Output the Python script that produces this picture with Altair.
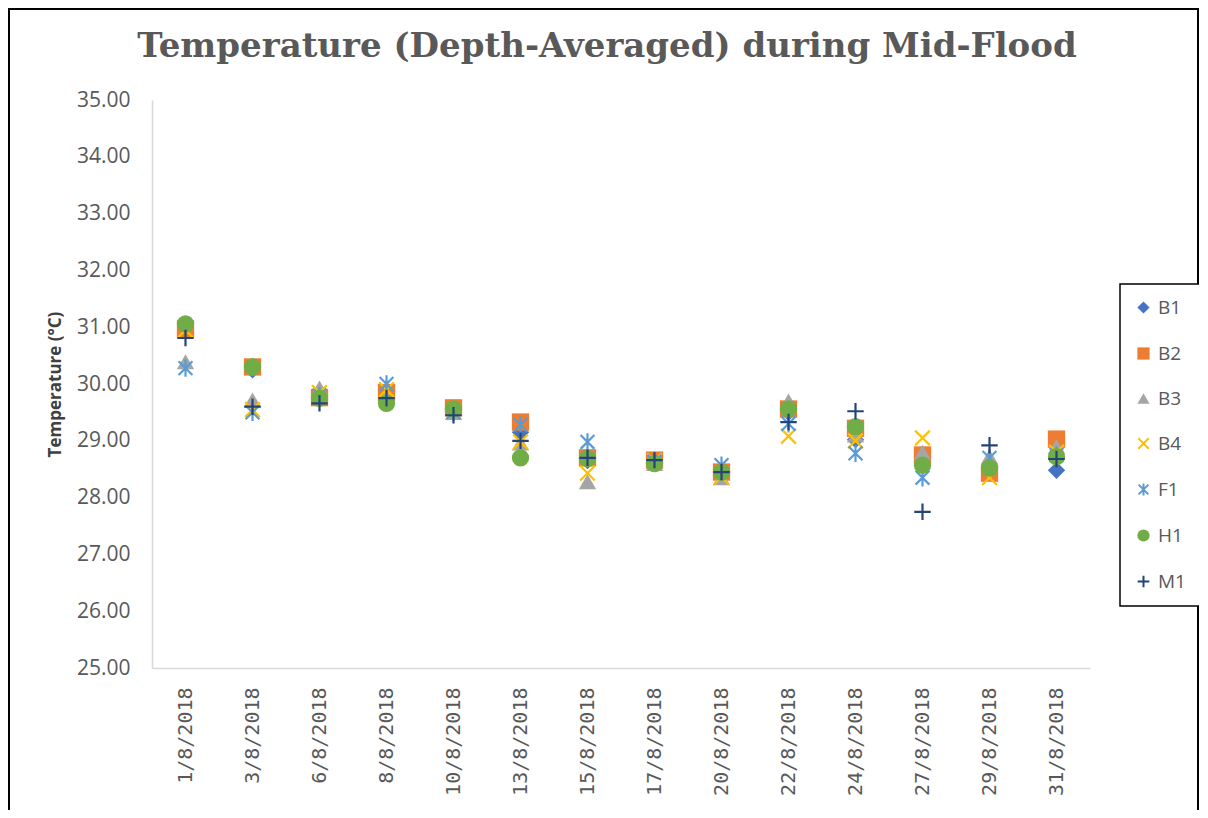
import altair as alt
import pandas as pd

dates = ["1/8/2018", "3/8/2018", "6/8/2018", "8/8/2018", "10/8/2018", "13/8/2018", "15/8/2018",
         "17/8/2018", "20/8/2018", "22/8/2018", "24/8/2018", "27/8/2018", "29/8/2018", "31/8/2018"]
series = ["B1", "B2", "B3", "B4", "F1", "H1", "M1"]

B1 = [30.95, 30.25, 29.75, 29.80, 29.55, 29.15, 28.65, 28.60, 28.40, 29.50, 29.02, 28.70, 28.45, 28.48]
B2 = [30.97, 30.30, 29.76, 29.85, 29.58, 29.33, 28.70, 28.66, 28.45, 29.56, 29.22, 28.75, 28.43, 29.03]
B3 = [30.39, 29.72, 29.93, 29.80, 29.50, 28.96, 28.28, 28.60, 28.35, 29.70, 29.10, 28.80, 28.72, 28.90]
B4 = [30.95, 29.55, 29.85, 29.90, 29.50, 28.98, 28.43, 28.65, 28.36, 29.08, 29.00, 29.05, 28.35, 28.80]
F1 = [30.28, 29.50, 29.80, 30.00, 29.50, 29.28, 28.98, 28.63, 28.57, 29.30, 28.78, 28.35, 28.70, 28.75]
H1 = [31.06, 30.30, 29.75, 29.66, 29.56, 28.70, 28.69, 28.60, 28.45, 29.56, 29.25, 28.57, 28.52, 28.72]
M1 = [30.81, 29.60, 29.66, 29.75, 29.45, 29.00, 28.70, 28.66, 28.45, 29.33, 29.52, 27.75, 28.92, 28.68]

y_ticks = [25, 26, 27, 28, 29, 30, 31, 32, 33, 34, 35]
title_text = ["Temperature (Depth-Averaged) during Mid-Flood"]

fill_colors = ["#4472C4", "#ED7D31", "#A5A5A5", "transparent", "transparent", "#70AD47", "transparent"]
stroke_colors = ["transparent", "transparent", "transparent", "#FFC000", "#5B9BD5", "transparent", "#264478"]
shapes = [
    "diamond",
    "square",
    "triangle-up",
    "M-0.85,-0.85L0.85,0.85M0.85,-0.85L-0.85,0.85",
    "M-0.8,-0.8L0.8,0.8M0.8,-0.8L-0.8,0.8M0,-1L0,1",
    "circle",
    "M-0.95,0L0.95,0M0,-0.95L0,0.95",
]

rows = []
for s, vals in zip(series, [B1, B2, B3, B4, F1, H1, M1]):
    for d, v in zip(dates, vals):
        rows.append({"date": d, "series": s, "temp": v})
df = pd.DataFrame(rows)

W, H = 938, 568

points = alt.Chart(df).mark_point(filled=True, opacity=1, strokeWidth=2.2, size=300).encode(
    x=alt.X("date:N", sort=dates,
            scale=alt.Scale(type="point", padding=0.5),
            axis=alt.Axis(title=None, labelAngle=270, ticks=False, labelPadding=19,
                          labelFont="DejaVu Sans Mono", labelFontSize=20, labelColor="#595959",
                          domainColor="#D9D9D9", domainWidth=1.5)),
    y=alt.Y("temp:Q", scale=alt.Scale(domain=[25, 35], nice=False, zero=False),
            axis=alt.Axis(title="Temperature (°C)", values=y_ticks, format=".2f", grid=False,
                          ticks=False, labelPadding=22, labelFont="Open Sans", labelFontSize=21,
                          labelColor="#595959", domainColor="#D9D9D9", domainWidth=1.5,
                          titleFont="Open Sans", titleFontSize=17, titleFontWeight="bold",
                          titleColor="#404040", titlePadding=12)),
    fill=alt.Fill("series:N", sort=series,
                  scale=alt.Scale(domain=series, range=fill_colors),
                  legend=alt.Legend(title=None)),
    stroke=alt.Stroke("series:N", sort=series,
                      scale=alt.Scale(domain=series, range=stroke_colors),
                      legend=alt.Legend(title=None)),
    shape=alt.Shape("series:N", sort=series,
                    scale=alt.Scale(domain=series, range=shapes),
                    legend=alt.Legend(title=None)),
    order=alt.Order("idx:Q"),
).transform_calculate(
    idx="indexof(['B1','B2','B3','B4','F1','H1','M1'], datum.series)"
)

title = alt.Chart(alt.Data(values=[{"t": t} for t in title_text])).mark_text(
    font="DejaVu Serif", fontSize=34, fontWeight="bold", color="#595959",
    align="center", baseline="middle"
).encode(
    text="t:N", x=alt.value(455), y=alt.value(-53)
)

border = alt.Chart(alt.Data(values=[{"a": 1}])).mark_rect(
    filled=False, stroke="black", strokeWidth=2
).encode(
    x=alt.value(-143), x2=alt.value(1046), y=alt.value(-91), y2=alt.value(740)
)

chart = alt.layer(points, title, border).properties(
    width=W, height=H,
    autosize=alt.AutoSizeParams(type="none"),
    padding={"left": 144, "top": 92, "right": 109, "bottom": 142},
).configure_view(stroke=None).configure_legend(
    orient="none", legendX=968, legendY=184, padding=14,
    strokeColor="black", strokeWidth=1.5, fillColor="white",
    labelFont="Open Sans", labelFontSize=19, labelColor="#595959", labelOffset=5,
    symbolSize=150, symbolStrokeWidth=2, symbolOpacity=1, rowPadding=25,
)

chart.save("out.html", embed_options={"renderer": "svg", "actions": False})
